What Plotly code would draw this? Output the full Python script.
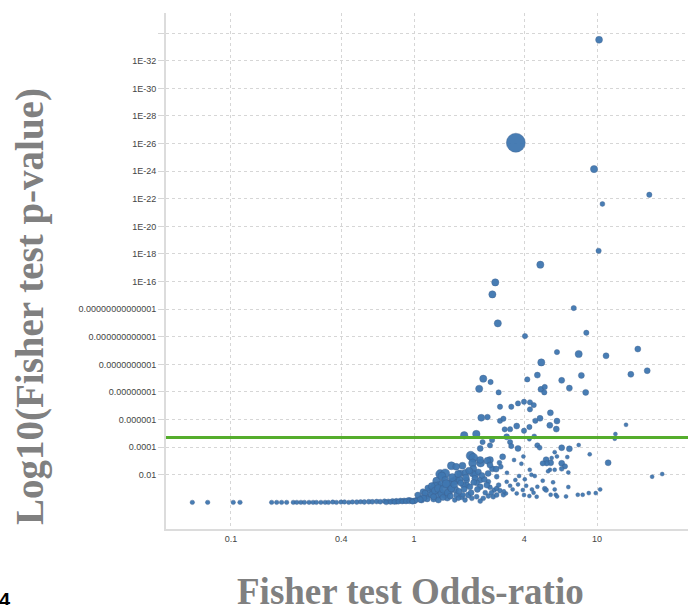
import plotly.graph_objects as go

# ---------------- data ----------------
# odds ratio, -log10(Fisher p-value), gene count (bubble size)
odds_ratio = [
    10.26, 3.60, 9.63, 19.3, 10.7, 10.2, 4.90, 2.78, 2.68, 2.87,
    4.04, 7.46, 8.74, 6.04, 4.96, 7.94, 11.2, 16.7, 15.3, 18.8,
    2.39, 2.27, 2.62, 4.16, 4.72, 4.94, 5.18, 5.15, 2.90, 6.41,
    8.21, 7.06, 8.67, 2.95, 3.40, 3.70, 3.99, 4.30, 4.51, 4.30,
    5.56, 2.33, 2.52, 2.95, 3.08, 4.60, 4.88, 3.64, 3.13, 3.35,
    5.52, 6.04, 5.99, 14.4, 12.6, 12.5, 3.99, 4.27, 1.88, 2.19,
    3.21, 4.54, 4.27, 2.67, 2.37, 2.60, 3.35, 3.40, 4.72, 4.86,
    3.70, 2.30, 6.41, 7.06, 7.94, 9.12, 11.5, 5.87, 6.04, 6.88,
    5.27, 5.58, 5.31, 5.05, 6.41, 6.68, 5.65, 5.53, 5.40, 5.87,
    6.97, 5.05, 5.75, 5.18, 5.27, 5.87, 6.97, 5.58, 5.95, 6.05,
    6.77, 7.85, 8.35, 9.01, 9.84, 10.4, 20.0, 22.7, 3.96, 3.52,
    3.05, 2.60, 2.52, 2.04, 2.11, 2.31, 2.09, 3.86, 4.29, 2.93,
    2.98, 6.41, 1.60, 1.84, 1.79, 1.91, 2.11, 2.09, 2.16, 2.54,
    2.68, 2.81, 2.30, 3.22, 3.75, 3.58, 4.03, 4.38, 4.57, 1.39,
    1.48, 1.33, 1.35, 1.30, 1.64, 1.70, 1.43, 1.57, 1.68, 1.94,
    1.94, 2.02, 2.20, 2.30, 2.22, 2.55, 2.60, 2.74, 2.83, 2.95,
    3.08, 3.21, 3.18, 3.46, 3.64, 3.93, 3.99, 4.41, 4.72, 4.27,
    4.68, 2.30, 2.60, 1.70, 1.42, 1.48, 1.56, 1.78, 1.86, 2.15,
    2.42, 2.50, 2.83, 0.80, 0.87, 0.95, 1.035, 1.10, 1.17, 1.12,
    1.22, 1.27, 1.39, 1.48, 1.57, 1.71, 1.82, 1.98, 2.07, 2.20,
    2.39, 2.55, 2.71, 2.83, 1.05, 1.15, 1.19, 1.25, 1.34, 1.52,
    1.67, 1.90, 2.30, 1.00, 1.10, 1.28, 1.36,
    0.0615, 0.0746, 0.1029, 0.112, 0.1668, 0.1777, 0.189, 0.2015,
    0.219, 0.229, 0.241, 0.252, 0.267, 0.281, 0.293, 0.310, 0.327, 0.341,
    0.360, 0.377, 0.399, 0.417, 0.440, 0.461, 0.487, 0.511, 0.535, 0.566,
    0.592, 0.625, 0.654, 0.690, 0.724, 0.763, 0.800, 0.843, 0.884, 0.931,
    0.705, 0.745, 0.781, 0.822, 0.862, 0.905, 0.944, 0.975,
    1.25, 1.30, 1.36, 1.41, 1.45, 1.50, 1.53, 1.60, 1.62, 1.66,
    1.74, 1.76, 1.80, 1.88, 1.92, 2.00, 2.05, 2.12, 2.25, 2.35,
    2.45, 1.18, 1.13, 1.08, 1.02, 0.98, 1.28, 1.44, 1.58, 1.75,
    1.85, 2.65, 2.90, 3.10, 3.35, 3.70, 4.10, 4.50,
]
neg_log10_p = [
    33.52, 26.06, 24.15, 22.29, 21.62, 18.23, 17.22, 15.94, 15.07, 12.97,
    12.05, 14.08, 12.29, 10.89, 10.14, 10.75, 10.62, 11.11, 9.28, 9.54,
    8.96, 8.23, 8.72, 8.91, 9.22, 8.19, 8.36, 7.97, 7.97, 8.84,
    9.20, 8.28, 7.97, 6.93, 6.93, 7.17, 7.29, 7.25, 7.05, 6.74,
    6.49, 6.13, 6.18, 5.91, 6.06, 5.91, 6.09, 5.53, 5.29, 5.30,
    5.58, 5.89, 5.31, 5.62, 4.95, 4.61, 5.19, 5.46, 4.86, 4.95,
    4.75, 4.78, 4.57, 4.51, 4.37, 4.13, 4.37, 4.08, 4.13, 3.96,
    3.91, 3.91, 3.96, 3.88, 4.15, 3.48, 2.87, 3.64, 3.33, 3.28,
    3.09, 2.87, 2.83, 2.83, 2.83, 2.61, 3.21, 2.36, 2.25, 2.36,
    2.17, 1.57, 1.45, 0.99, 0.89, 0.94, 1.11, 0.55, 0.55, 0.43,
    0.43, 0.55, 0.55, 0.67, 0.67, 0.94, 1.86, 2.05, 3.33, 3.07,
    3.30, 3.07, 3.01, 3.38, 3.23, 2.85, 2.85, 2.80, 2.36, 2.87,
    2.58, 2.43, 2.65, 2.65, 2.10, 2.14, 2.43, 2.10, 2.00, 2.10,
    2.43, 2.41, 1.62, 2.14, 1.91, 1.62, 1.67, 2.00, 1.91, 2.05,
    2.10, 1.54, 1.20, 1.18, 1.52, 1.62, 1.33, 1.13, 0.94, 1.62,
    1.25, 1.13, 1.42, 1.13, 0.94, 1.49, 1.09, 0.89, 1.01, 0.84,
    0.55, 1.49, 0.65, 0.94, 0.65, 0.89, 0.53, 0.94, 1.13, 0.46,
    0.41, 3.07, 2.70, 2.58, 1.91, 1.62, 1.33, 1.62, 1.25, 1.74,
    1.67, 1.25, 1.86, 0.04, 0.09, 0.17, 0.22, 0.36, 0.46, 0.77,
    0.89, 0.65, 0.77, 0.53, 0.77, 0.53, 0.41, 0.53, 0.29, 0.41,
    0.29, 0.46, 0.41, 0.53, 0.53, 0.67, 1.04, 1.18, 0.46, 0.31,
    0.17, 0.17, 0.09, 0.10, 0.17, 0.24, 0.17,
    0.0, 0.0, 0.0, 0.0, 0.0, 0.0, 0.0, 0.0,
    0.0, 0.0, 0.0, 0.0, 0.0, 0.0, 0.0, 0.0, 0.0, 0.0,
    0.02, 0.0, 0.02, 0.03, 0.0, 0.03, 0.02, 0.04, 0.03, 0.05,
    0.04, 0.06, 0.05, 0.08, 0.07, 0.09, 0.10, 0.12, 0.13, 0.15,
    0.0, 0.02, 0.03, 0.05, 0.06, 0.08, 0.09, 0.11,
    0.55, 0.85, 1.00, 0.62, 0.95, 1.35, 0.70, 1.00, 1.80, 1.30,
    2.05, 0.80, 1.40, 0.95, 1.80, 2.30, 0.70, 1.45, 2.20, 1.95,
    0.70, 0.25, 0.30, 0.20, 0.12, 0.05, 0.40, 0.35, 0.45, 0.30,
    0.55, 0.70, 1.25, 0.80, 1.20, 1.30, 1.20, 0.70,
]
gene_count = [
    12, 90, 13, 7, 6, 7, 13, 13, 13, 13,
    7, 7, 7, 7, 13, 13, 9, 9, 9, 9,
    13, 13, 7, 7, 9, 9, 7, 7, 7, 9,
    9, 9, 9, 7, 7, 7, 7, 7, 7, 7,
    9, 12, 8, 7, 7, 7, 9, 9, 7, 7,
    9, 9, 9, 4, 4, 4, 7, 7, 14, 14,
    9, 6, 4, 7, 7, 7, 7, 7, 7, 6,
    9, 9, 9, 9, 4, 4, 9, 4, 4, 4,
    9, 9, 7, 7, 9, 7, 4, 4, 4, 4,
    4, 4, 4, 6, 6, 4, 4, 4, 4, 4,
    4, 4, 4, 4, 4, 4, 4, 4, 4, 4,
    9, 12, 12, 20, 20, 16, 16, 4, 4, 6,
    6, 6, 16, 12, 12, 12, 12, 12, 12, 9,
    9, 9, 9, 4, 4, 4, 4, 4, 4, 20,
    20, 16, 16, 16, 16, 16, 16, 12, 12, 9,
    9, 9, 9, 9, 9, 6, 6, 6, 6, 6,
    6, 4, 4, 4, 4, 4, 4, 4, 4, 4,
    4, 12, 9, 12, 16, 12, 12, 12, 9, 9,
    9, 9, 6, 6, 6, 6, 6, 9, 9, 9,
    12, 12, 12, 12, 9, 9, 9, 9, 6, 6,
    6, 6, 6, 6, 9, 9, 9, 12, 12, 9,
    6, 6, 6, 9, 9, 9, 9,
    5, 5, 5, 5, 5, 5, 5, 5,
    5, 5, 5, 5, 5, 5, 5, 5, 5, 5,
    5, 5, 5, 5, 5, 5, 6, 5, 6, 6,
    6, 6, 6, 6, 6, 7, 7, 7, 7, 8,
    6, 6, 6, 6, 6, 7, 7, 7,
    12, 12, 16, 12, 16, 16, 12, 12, 16, 12,
    12, 9, 9, 9, 12, 12, 9, 9, 9, 9,
    6, 9, 9, 9, 6, 6, 9, 9, 9, 6,
    6, 6, 6, 4, 4, 4, 4, 4,
]

y_tick_values = [2, 4, 6, 8, 10, 12, 14, 16, 18, 20, 22, 24, 26, 28, 30, 32, 34]
y_tick_labels = ["0.01", "0.0001", "0.000001", "0.00000001", "0.0000000001",
                 "0.000000000001", "0.00000000000001", "1E-16", "1E-18", "1E-20",
                 "1E-22", "1E-24", "1E-26", "1E-28", "1E-30", "1E-32", ""]
x_tick_values = [0.1, 0.4, 1, 4, 10]
x_tick_labels = ["0.1", "0.4", "1", "4", "10"]
threshold_neg_log10_p = 4.70

# ---------------- figure ----------------
fig = go.Figure()
fig.add_trace(go.Scatter(
    x=odds_ratio, y=neg_log10_p, mode="markers",
    marker=dict(size=gene_count, sizemode="area", sizeref=0.5,
                color="#3f77b1", opacity=0.95,
                line=dict(width=0.6, color="rgba(60,95,140,0.7)")),
    hoverinfo="x+y", showlegend=False,
))

fig.add_shape(type="line", xref="paper", x0=0, x1=1, yref="y",
              y0=threshold_neg_log10_p, y1=threshold_neg_log10_p,
              line=dict(color="#55ad2c", width=3), layer="above")

# body margin removed (post_script): plot area at x 166..688, y 13..529 on screen
fig.update_layout(
    width=688, height=605,
    margin=dict(l=166, r=0, t=13, b=76),
    paper_bgcolor="white", plot_bgcolor="white",
    font=dict(family="Liberation Sans, Arial, sans-serif", size=9, color="#444"),
    xaxis=dict(type="log", range=[-1.355, 1.497],
               tickvals=x_tick_values, ticktext=x_tick_labels,
               showgrid=True, gridcolor="#d6d6d6", griddash="dot", gridwidth=1,
               showline=True, linecolor="#dcdcdc", linewidth=2,
               zeroline=False, ticks="", tickfont=dict(size=9, color="#444")),
    yaxis=dict(range=[-1.93, 35.46],
               tickvals=y_tick_values, ticktext=y_tick_labels,
               showgrid=True, gridcolor="#d6d6d6", griddash="dot", gridwidth=1,
               showline=True, linecolor="#dcdcdc", linewidth=2,
               zeroline=False, ticks="outside", ticklen=6, tickcolor="#d6d6d6",
               tickfont=dict(size=9, color="#444")),
    annotations=[
        dict(text="<b>Fisher test Odds-ratio</b>", xref="paper", yref="paper",
             x=(410 - 166) / 522, y=(529 - 591) / 516, xanchor="center", yanchor="middle",
             showarrow=False,
             font=dict(family="Liberation Serif, Times New Roman, serif", size=37, color="#808080")),
        dict(text="<b>Log10(Fisher test p-value)</b>", xref="paper", yref="paper",
             x=(30 - 166) / 522, y=(529 - 307) / 516, xanchor="center", yanchor="middle",
             textangle=-90, showarrow=False,
             font=dict(family="Liberation Serif, Times New Roman, serif", size=39, color="#808080")),
        dict(text="<b>4</b>", xref="paper", yref="paper",
             x=(-3 - 166) / 522, y=(529 - 587) / 516, xanchor="left", yanchor="top",
             showarrow=False,
             font=dict(family="Liberation Sans, Arial, sans-serif", size=20, color="black")),
    ],
)

fig.write_html("out.html", config={"displayModeBar": False},
               post_script="document.body.style.margin='0';")
